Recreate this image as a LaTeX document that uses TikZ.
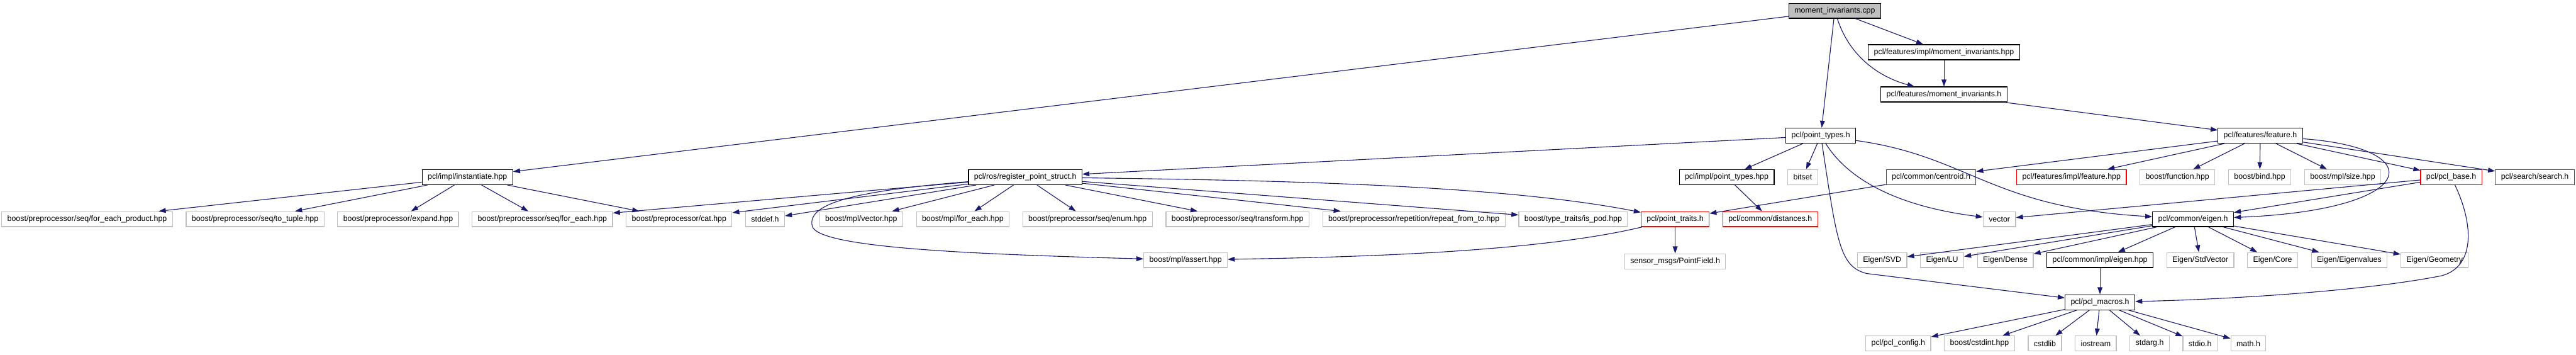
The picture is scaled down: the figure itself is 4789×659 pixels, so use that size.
\documentclass[tikz,border=0pt]{standalone}
\usepackage{fontspec}
\setmainfont{Liberation Sans}
\usepackage{tikz}
\usetikzlibrary{arrows.meta,positioning}
\definecolor{edgeblue}{HTML}{191970}
\definecolor{rootgrey}{HTML}{BFBFBF}
\definecolor{extgrey}{HTML}{BFBFBF}

\begin{document}
\begin{tikzpicture}[
    x=0.5pt, y=-0.5pt,
    node distance=24.5pt and 12pt,
    box/.style={draw=black, fill=white, line width=0.7pt, inner xsep=5.2pt, inner ysep=0pt, minimum height=14pt, font=\fontsize{7.25}{8}\selectfont},
    redbox/.style={box, draw=red},
    greybox/.style={box, draw=extgrey},
    rootbox/.style={box, fill=rootgrey},
    arrow/.style={-{Triangle[length=6.5pt,width=4.5pt]}, line width=0.65pt, draw=edgeblue}
]
\useasboundingbox (0,0) rectangle (4789,659);
\node[rootbox] (root) at (3411,20) {moment\_invariants.cpp};
\node[box] (mihpp) at (3614,97) {pcl/features/impl/moment\_invariants.hpp};
\node[box, below=of mihpp] (mih) {pcl/features/moment\_invariants.h};
\node[box] (ptypes) at (3385,252) {pcl/point\_types.h};
\node[box] (feat) at (4202,252) {pcl/features/feature.h};
\node[box] (inst) at (869,329) {pcl/impl/instantiate.hpp};
\node[box] (reg) at (1906,329) {pcl/ros/register\_point\_struct.h};
\node[box] (ptypeshpp) at (3210,329) {pcl/impl/point\_types.hpp};
\node[greybox, right=of ptypeshpp] (bitset) {bitset};
\node[redbox] (centroid) at (3590,329) {pcl/common/centroid.h};
\node[redbox] (feathpp) at (3851,329) {pcl/features/impl/feature.hpp};
\node[greybox, right=of feathpp] (func) {boost/function.hpp};
\node[greybox, right=of func] (bind) {boost/bind.hpp};
\node[greybox, right=of bind] (size) {boost/mpl/size.hpp};
\node[redbox] (base) at (4557,329) {pcl/pcl\_base.h};
\node[redbox, right=of base] (search) {pcl/search/search.h};
\node[greybox] (fep) at (162,407) {boost/preprocessor/seq/for\_each\_product.hpp};
\node[greybox, right=of fep] (tuple) {boost/preprocessor/seq/to\_tuple.hpp};
\node[greybox, right=of tuple] (expand) {boost/preprocessor/expand.hpp};
\node[greybox, right=of expand] (foreach) {boost/preprocessor/seq/for\_each.hpp};
\node[greybox, right=of foreach] (cat) {boost/preprocessor/cat.hpp};
\node[greybox, right=of cat] (stddef) {stddef.h};
\node[greybox] (mplvec) at (1601,407) {boost/mpl/vector.hpp};
\node[greybox, right=of mplvec] (mplfe) {boost/mpl/for\_each.hpp};
\node[greybox, right=of mplfe] (enum) {boost/preprocessor/seq/enum.hpp};
\node[greybox, right=of enum] (transform) {boost/preprocessor/seq/transform.hpp};
\node[greybox, right=of transform] (repeat) {boost/preprocessor/repetition/repeat\_from\_to.hpp};
\node[greybox, right=of repeat] (ispod) {boost/type\_traits/is\_pod.hpp};
\node[redbox, right=of ispod] (traits) {pcl/point\_traits.h};
\node[redbox, right=of traits] (dist) {pcl/common/distances.h};
\node[greybox] (vector) at (3717,407) {vector};
\node[box] (eigen) at (4077,407) {pcl/common/eigen.h};
\node[greybox] (assert) at (2204,483) {boost/mpl/assert.hpp};
\node[greybox, below=of traits] (pfield) {sensor\_msgs/PointField.h};
\node[greybox] (svd) at (3499,483) {Eigen/SVD};
\node[greybox, right=of svd] (lu) {Eigen/LU};
\node[greybox, right=of lu] (dense) {Eigen/Dense};
\node[box, right=of dense] (eigenhpp) {pcl/common/impl/eigen.hpp};
\node[greybox, right=of eigenhpp] (stdvec) {Eigen/StdVector};
\node[greybox, right=of stdvec] (core) {Eigen/Core};
\node[greybox, right=of core] (evals) {Eigen/Eigenvalues};
\node[greybox, right=of evals] (geom) {Eigen/Geometry};
\node[box, below=of eigenhpp] (macros) {pcl/pcl\_macros.h};
\node[greybox] (config) at (3529,638) {pcl/pcl\_config.h};
\node[greybox, right=of config] (cstdint) {boost/cstdint.hpp};
\node[greybox, right=of cstdint] (cstdlib) {cstdlib};
\node[greybox, right=of cstdlib] (iostream) {iostream};
\node[greybox, right=of iostream] (stdarg) {stdarg.h};
\node[greybox, right=of stdarg] (stdio) {stdio.h};
\node[greybox, right=of stdio] (math) {math.h};
\draw[arrow] (root) -- (inst);
\draw[arrow] (root) -- (ptypes);
\draw[arrow] (root) -- (mihpp);
\draw[arrow] (root) .. controls (3440,110) and (3500,145) .. (mih);
\draw[arrow] (mihpp) -- (mih);
\draw[arrow] (mih) -- (feat);
\draw[arrow] (ptypes) -- (reg);
\draw[arrow] (ptypes) -- (ptypeshpp);
\draw[arrow] (ptypes) -- (bitset);
\draw[arrow] (ptypes) .. controls (3440,340) and (3540,385) .. (vector);
\draw[arrow] (ptypes) .. controls (3660,290) and (3700,385) .. (eigen);
\draw[arrow] (ptypes) .. controls (3415,450) and (3420,495) .. (3470,508) -- (macros);
\draw[arrow] (inst) -- (fep);
\draw[arrow] (inst) -- (tuple);
\draw[arrow] (inst) -- (expand);
\draw[arrow] (inst) -- (foreach);
\draw[arrow] (inst) -- (cat);
\draw[arrow] (reg) -- (foreach);
\draw[arrow] (reg) -- (cat);
\draw[arrow] (reg) -- (stddef);
\draw[arrow] (reg) .. controls (1580,355) and (1500,380) .. (1510,420) .. controls (1520,460) and (1800,472) .. (assert);
\draw[arrow] (reg) -- (mplvec);
\draw[arrow] (reg) -- (mplfe);
\draw[arrow] (reg) -- (enum);
\draw[arrow] (reg) -- (transform);
\draw[arrow] (reg) -- (repeat);
\draw[arrow] (reg) -- (ispod);
\draw[arrow] (reg) .. controls (2400,335) and (2800,345) .. (traits);
\draw[arrow] (ptypeshpp) -- (dist);
\draw[arrow] (centroid) -- (traits);
\draw[arrow] (traits) .. controls (2850,470) and (2500,478) .. (assert);
\draw[arrow] (traits) -- (pfield);
\draw[arrow] (feat) -- (centroid);
\draw[arrow] (feat) -- (feathpp);
\draw[arrow] (feat) -- (func);
\draw[arrow] (feat) -- (bind);
\draw[arrow] (feat) -- (size);
\draw[arrow] (feat) -- (base);
\draw[arrow] (feat) -- (search);
\draw[arrow] (feat) .. controls (4520,275) and (4500,390) .. (eigen);
\draw[arrow] (base) -- (vector);
\draw[arrow] (base) -- (eigen);
\draw[arrow] (base) .. controls (4600,420) and (4600,495) .. (4540,512) .. controls (4400,540) and (4150,556) .. (macros);
\draw[arrow] (eigen) -- (svd);
\draw[arrow] (eigen) -- (lu);
\draw[arrow] (eigen) -- (dense);
\draw[arrow] (eigen) -- (eigenhpp);
\draw[arrow] (eigen) -- (stdvec);
\draw[arrow] (eigen) -- (core);
\draw[arrow] (eigen) -- (evals);
\draw[arrow] (eigen) -- (geom);
\draw[arrow] (eigenhpp) -- (macros);
\draw[arrow] (macros) -- (config);
\draw[arrow] (macros) -- (cstdint);
\draw[arrow] (macros) -- (cstdlib);
\draw[arrow] (macros) -- (iostream);
\draw[arrow] (macros) -- (stdarg);
\draw[arrow] (macros) -- (stdio);
\draw[arrow] (macros) -- (math);
\end{tikzpicture}
\end{document}
